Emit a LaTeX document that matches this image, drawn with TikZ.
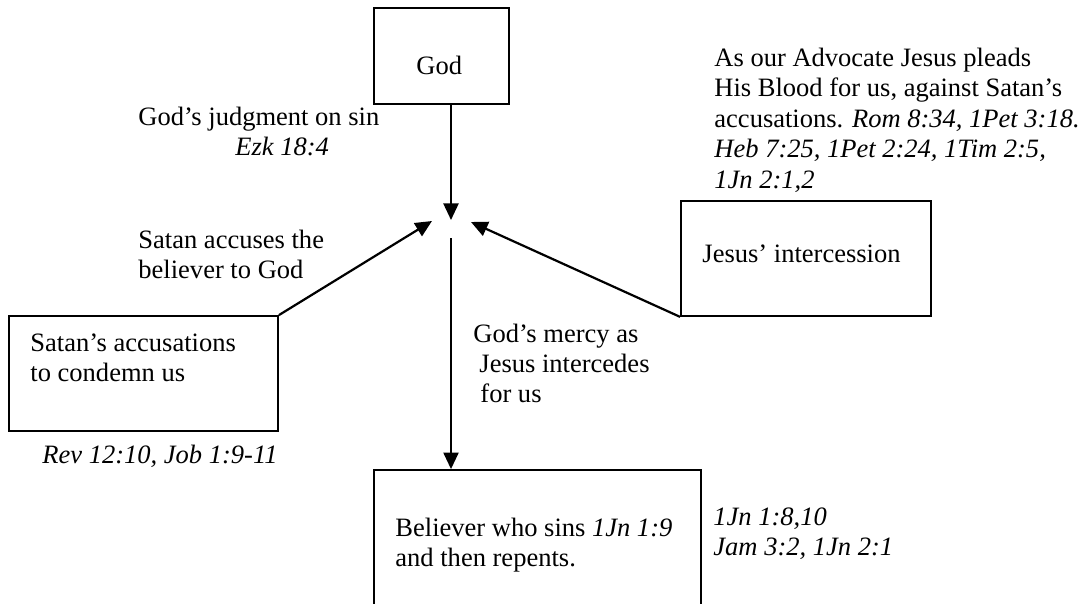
\documentclass[tikz,border=0pt]{standalone}
\usepackage{fontspec}
\setmainfont{Liberation Serif}
\usetikzlibrary{arrows.meta,fit}
\begin{document}
\begin{tikzpicture}[x=0.4525pt, y=-0.4525pt,
  every node/.style={font=\fontsize{12}{13.8}\selectfont},
  boxst/.style={draw, line width=0.8pt, inner sep=0pt, fit=#1},
  txt/.style={anchor=base west, inner sep=0pt},
  arr/.style={line width=1pt, -{Triangle[length=7.5pt, width=6.8pt]}}]
\useasboundingbox (0,0) rectangle (1086,603);
% box corners
\coordinate (g1) at (374,8);   \coordinate (g2) at (509,104);
\coordinate (j1) at (681,201); \coordinate (j2) at (931,316);
\coordinate (s1) at (9,316);   \coordinate (s2) at (278,431);
\coordinate (b1) at (374,470); \coordinate (b2) at (701,640);
\node[boxst={(g1)(g2)}] (god) {};
\node[boxst={(j1)(j2)}] (jesus) {};
\node[boxst={(s1)(s2)}] (satan) {};
\node[boxst={(b1)(b2)}] (believer) {};
% box texts
\node[txt] (tgod) at (416,74) {God};
\node[txt] (tjesus) at (702,262) {Jesus’ intercession};
\node[txt] (tsat1) at (30,351) {Satan’s accusations};
\node[txt] (tsat2) at (30,381) {to condemn us};
\node[txt] (tbel1) at (395,536) {Believer who sins \textit{1Jn 1:9}};
\node[txt] (tbel2) at (395,566) {and then repents.};
% free labels
\node[txt] (judg1) at (138,125) {God’s judgment on sin};
\node[txt] (judg2) at (235,155) {\textit{Ezk 18:4}};
\node[txt] (adv1) at (714,66) {As our Advocate Jesus pleads};
\node[txt] (adv2) at (714,96.5) {His Blood for us, against Satan’s};
\node[txt] (adv3) at (714,127) {accusations. \textit{Rom 8:34, 1Pet 3:18.}};
\node[txt] (adv4) at (714,157.5) {\textit{Heb 7:25, 1Pet 2:24, 1Tim 2:5,}};
\node[txt] (adv5) at (714,188) {\textit{1Jn 2:1,2}};
\node[txt] (acc1) at (138,248) {Satan accuses the};
\node[txt] (acc2) at (138,278) {believer to God};
\node[txt] (mer1) at (473,342) {God’s mercy as};
\node[txt] (mer2) at (479,372) {Jesus intercedes};
\node[txt] (mer3) at (480,402) {for us};
\node[txt] (rev) at (42,463) {\textit{Rev 12:10, Job 1:9-11}};
\node[txt] (jn1) at (713,525) {\textit{1Jn 1:8,10}};
\node[txt] (jn2) at (713,555) {\textit{Jam 3:2, 1Jn 2:1}};
% connectors
\coordinate (tipT) at (451,220);
\coordinate (tipL) at (432,221);
\coordinate (tipR) at (471,222);
\coordinate (midS) at (451,238);
\draw[arr] (god.south -| tipT) -- (tipT);
\draw[arr] (satan.north east) -- (tipL);
\draw[arr] (jesus.south west) -- (tipR);
\draw[arr] (midS) -- (believer.north -| midS);
\end{tikzpicture}
\end{document}
